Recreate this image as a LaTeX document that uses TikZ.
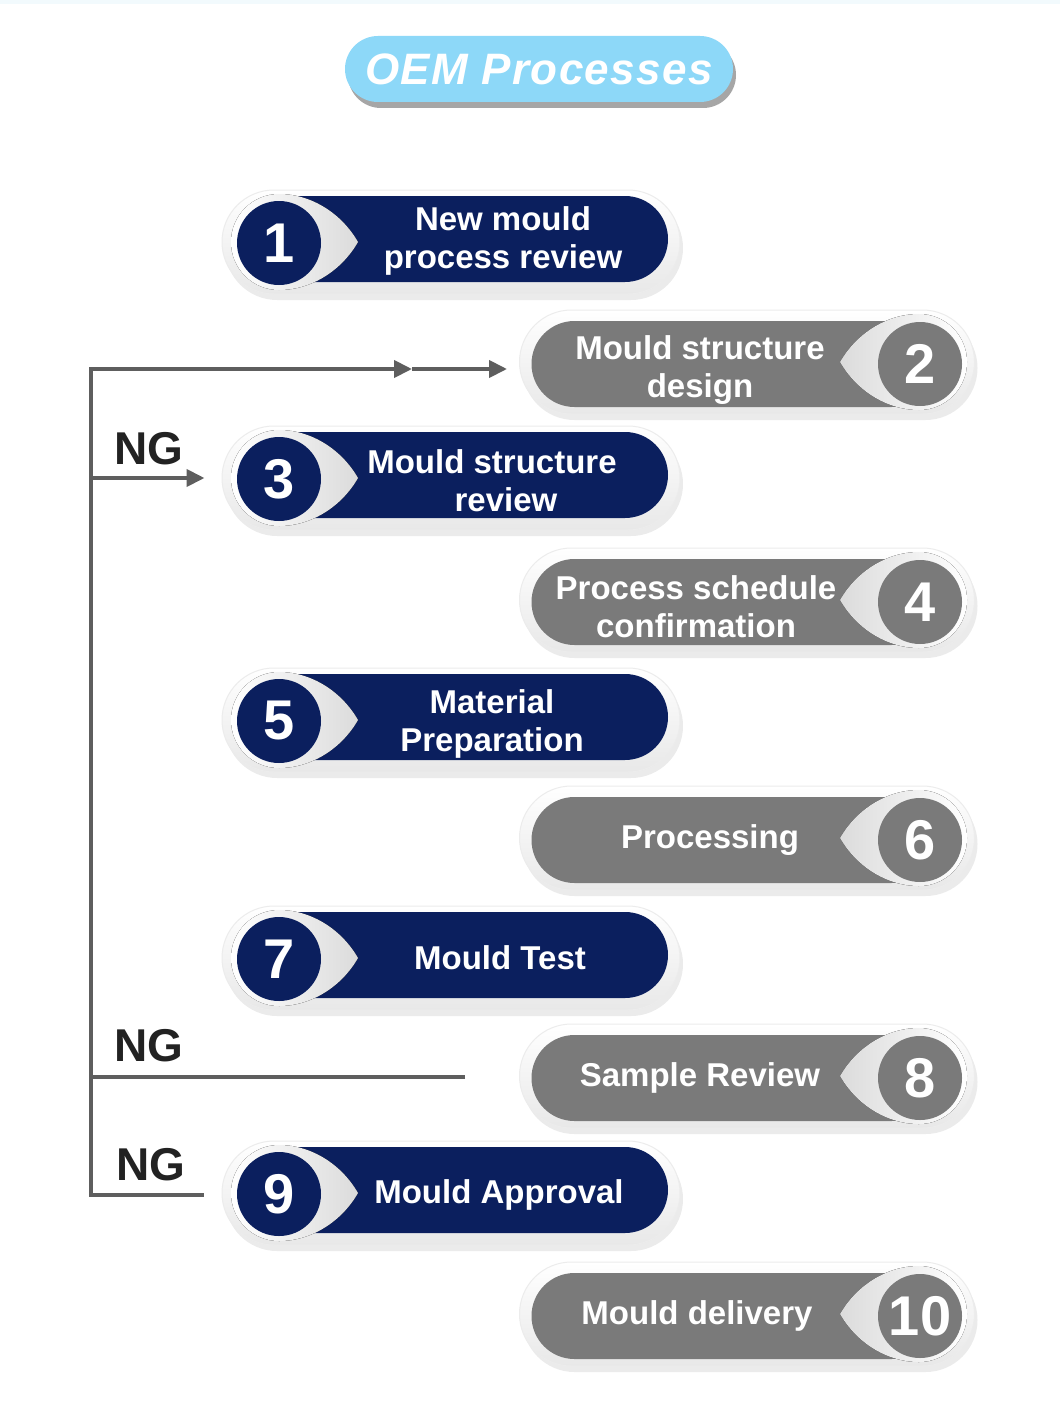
\documentclass[tikz,border=0pt]{standalone}
\usepackage{fontspec}
\setmainfont{Liberation Sans}
\usetikzlibrary{arrows.meta}
\definecolor{navy}{HTML}{0B1F5E}
\definecolor{stepgray}{HTML}{7A7A7A}
\definecolor{titleblue}{HTML}{8DD8F8}
\definecolor{lineg}{HTML}{5E5E5E}
\definecolor{ngblack}{HTML}{222222}
\definecolor{topstrip}{HTML}{F2FAFD}

\newcommand\bluestep[5]{%
  \node[shadowpill,minimum width=458pt] at (454,#2+6) {};
  \node[outerpill,minimum width=458pt] (o#1) at (451,#2) {};
  \node[navybody,minimum width=410pt] (b#1) at (463,#2-3) {};
  \fill[left color=white,right color=gray!28] (358,#2) .. controls (342,#2-28) and (312,#2-48) .. (279,#2-48)
     arc[start angle=90,end angle=270,radius=48pt] .. controls (312,#2+48) and (342,#2+28) .. (358,#2) -- cycle;
  \node[numcircle,fill=navy] (c#1) at (279,#2+1) {#1};
  \node[steptext] (s#1) at (#3,#4) {#5};
}
\newcommand\graystep[5]{%
  \node[shadowpill,minimum width=455pt] at (750,#2+6) {};
  \node[outerpill,minimum width=455pt] (o#1) at (747,#2) {};
  \node[graybody,minimum width=403pt] (b#1) at (733,#2+2) {};
  \fill[left color=gray!28,right color=white] (840,#2) .. controls (856,#2-28) and (886,#2-48) .. (919,#2-48)
     arc[start angle=90,end angle=-90,radius=48pt] .. controls (886,#2+48) and (856,#2+28) .. (840,#2) -- cycle;
  \node[numcircle,fill=stepgray] (c#1) at (920,#2+2) {#1};
  \node[steptext] (s#1) at (#3,#4) {#5};
}

\begin{document}
\begin{tikzpicture}[x=1pt,y=-1pt,
  shadowpill/.style={rectangle,rounded corners=52pt,minimum height=104pt,inner sep=0pt,fill=black,opacity=.08},
  outerpill/.style={rectangle,rounded corners=52pt,minimum height=104pt,inner sep=0pt,top color=white,bottom color=gray!18,draw=gray!15,line width=1pt},
  navybody/.style={rectangle,rounded corners=43pt,minimum height=86pt,inner sep=0pt,fill=navy},
  graybody/.style={rectangle,rounded corners=43pt,minimum height=86pt,inner sep=0pt,fill=stepgray},
  numcircle/.style={circle,minimum size=84pt,inner sep=0pt,text=white,font=\fontsize{56}{56}\selectfont\bfseries},
  steptext/.style={text=white,font=\fontsize{33}{38}\selectfont\bfseries,align=center,inner sep=0pt},
  nglabel/.style={text=ngblack,font=\fontsize{46}{46}\selectfont\bfseries,inner sep=0pt},
  ngline/.style={draw=lineg,line width=4pt},
  ngtip/.style={-{Triangle[length=18pt,width=17pt]}},
  titlepill/.style={rectangle,rounded corners=33pt,minimum width=388pt,minimum height=66pt,inner sep=0pt,fill=titleblue,text=white,font=\fontsize{44}{44}\selectfont\bfseries\itshape},
]
\useasboundingbox (0,0) rectangle (1060,1426);
\fill[white] (0,0) rectangle (1060,1426);
\fill[topstrip] (0,0) rectangle (1060,4);

% title
\node[titlepill,fill=gray!70,text=gray!70] at (542,75) {};
\node[titlepill] (title) at (539,69) {\addfontfeatures{LetterSpace=3}OEM Processes};

% steps
\bluestep{1}{242}{503}{241}{New mould\\process review}
\graystep{2}{362}{700}{370}{Mould structure\\design}
\bluestep{3}{478}{492}{481}{Mould structure\\\hspace*{28pt}review}
\graystep{4}{600}{696}{607}{Process schedule\\confirmation}
\bluestep{5}{720}{492}{724}{Material\\Preparation}
\graystep{6}{838}{710}{840}{Processing}
\bluestep{7}{958}{500}{958}{Mould Test}
\graystep{8}{1076}{700}{1078}{Sample Review}
\bluestep{9}{1193}{499}{1195}{Mould Approval}
\graystep{10}{1314}{696}{1316}{\kern2pt Mould delivery}

% NG labels
\node[nglabel] (ng1) at (149,449) {NG};
\node[nglabel] (ng2) at (149,1046) {NG};
\node[nglabel] (ng3) at (151,1165) {NG};

% connectors
\coordinate (tl) at (91,369);
\coordinate (mid) at (412,369);
\draw[ngline,ngtip] ([xshift=-18pt,yshift=-2pt]o9.west) -| (tl) -- (mid);
\draw[ngline,ngtip] (mid) -- ([xshift=-12pt,yshift=-7pt]o2.west);
\draw[ngline] ([xshift=-54pt,yshift=-1pt]o8.west) -- ([yshift=-1pt]o8.west -| tl);
\draw[ngline,ngtip] (o3.west -| tl) -- ([xshift=-17pt]o3.west);
\end{tikzpicture}
\end{document}
